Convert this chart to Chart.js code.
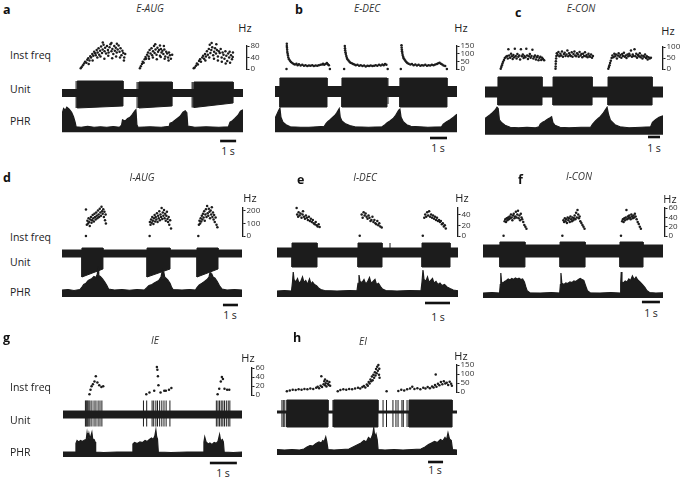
<!DOCTYPE html>
<html>
<head>
<meta charset="utf-8">
<script src="https://cdn.jsdelivr.net/npm/chart.js@4.4.1/dist/chart.umd.min.js"></script>
<style>
body { margin: 0; background: #fff; }
#fig { position: relative; width: 685px; height: 481px; overflow: hidden; background: #fff;
       font-family: "Open Sans", "Noto Sans", sans-serif; color: #222; }
#fig canvas { position: absolute; }
.t { position: absolute; white-space: nowrap; line-height: 1; }
.lab { font-size: 10.5px; }
.ttl { font-size: 10px; font-style: italic; font-weight: 400; color: #333; }
.let { font-size: 12.5px; font-weight: bold; color: #111; }
.hz { font-size: 11px; }
.sec { font-size: 10.5px; }
</style>
</head>
<body>
<div id="fig"></div>
<script>
// ---- data (time in s, freq in Hz, unit / PHR in arbitrary units) ----

// panel a, E-AUG
var freqA = [[0.94,3],[1.0,8],[1.08,14],[1.15,20],[1.22,26],[1.3,22],[1.36,33],[1.42,38],[1.45,18],[1.5,30],[1.55,45],[1.6,40],[1.68,52],[1.7,30],[1.74,46],[1.8,60],[1.86,55],[1.9,48],[1.96,66],[2.0,40],[2.02,58],[2.08,72],[2.12,50],[2.18,64],[2.2,44],[2.24,78],[2.3,56],[2.34,68],[2.35,92],[2.4,84],[2.45,36],[2.46,62],[2.5,74],[2.56,54],[2.62,80],[2.68,66],[2.7,46],[2.72,58],[2.78,76],[2.84,86],[2.9,62],[2.9,90],[2.95,38],[2.96,70],[3.02,52],[3.08,80],[3.12,64],[3.18,74],[3.2,44],[3.24,58],[3.25,88],[3.3,68],[3.36,82],[3.42,60],[3.45,40],[3.48,72],[3.54,48],[3.6,64],[3.66,56],[3.7,30],[3.72,40],[3.78,52],
  [4.72,3],[4.78,10],[4.85,18],[4.9,26],[4.96,22],[5.02,34],[5.08,42],[5.12,36],[5.18,50],[5.24,58],[5.28,44],[5.3,36],[5.34,66],[5.4,54],[5.46,72],[5.5,48],[5.55,40],[5.56,62],[5.62,80],[5.66,56],[5.7,86],[5.72,68],[5.78,50],[5.8,34],[5.84,74],[5.88,60],[5.94,66],[6.0,46],[6.0,82],[6.05,42],[6.06,70],[6.1,58],[6.16,64],[6.22,52],[6.25,80],[6.28,68],[6.3,36],[6.34,44],[6.4,60],[6.46,54],[6.52,40],[6.55,30],[6.58,58],[6.64,48],[6.7,36],[6.78,50],
  [8.16,3],[8.22,6],[8.3,12],[8.36,20],[8.42,16],[8.5,28],[8.56,34],[8.62,26],[8.7,40],[8.76,46],[8.82,36],[8.88,52],[8.9,30],[8.94,44],[9.0,62],[9.06,50],[9.12,70],[9.15,40],[9.18,84],[9.22,56],[9.28,66],[9.3,90],[9.34,76],[9.4,48],[9.45,36],[9.46,60],[9.52,72],[9.58,54],[9.6,86],[9.64,66],[9.7,44],[9.7,30],[9.76,62],[9.82,56],[9.88,70],[9.94,40],[9.95,26],[10.0,58],[10.06,50],[10.12,36],[10.18,62],[10.2,20],[10.24,46],[10.3,28],[10.36,54],[10.42,40],[10.45,60],[10.48,22],[10.54,48],[10.6,34],[10.65,42],[10.66,58]];
var ticksA = [0, 40, 80];
var unitBaseA = [0.35, -0.35];
var unitA = [[0.95,3.81,1.2,-1.5,1.2,-1.3],[4.81,6.88,1.1,-1.5,1.1,-1.3],[8.25,10.69,1.1,-1.45,1.1,-1.0]];
var spikesA = [[0.88,1.2,-1.5],[0.99,1.2,-1.5],[4.69,1.1,-1.5],[4.76,1.1,-1.5],[8.13,1.1,-1.45],[8.19,1.1,-1.45]];
var phrA = [[0,0.72],[0.1,0.95],[0.2,0.88],[0.3,1.0],[0.45,0.92],[0.6,0.8],[0.72,0.62],[0.82,0.4],[0.88,0.22],[1.2,0.2],[1.6,0.24],[2.0,0.2],[2.4,0.22],[2.8,0.2],[3.2,0.23],[3.6,0.2],[3.72,0.28],[3.78,0.5],[3.95,0.45],[4.1,0.55],[4.25,0.6],[4.4,0.72],[4.55,0.85],[4.62,0.9],[4.68,0.3],[4.75,0.2],[5.5,0.22],[6.2,0.2],[6.7,0.24],[6.75,0.36],[6.9,0.4],[7.06,0.48],[7.2,0.55],[7.38,0.64],[7.56,0.8],[7.7,0.86],[7.8,0.78],[7.86,0.25],[8.3,0.2],[9.0,0.22],[9.8,0.2],[10.4,0.22],[10.5,0.4],[10.65,0.46],[10.8,0.55],[11.0,0.68],[11.15,0.84],[11.31,0.9]];
var phrFloorA = 0;
var barA = [9.88, -0.35];

// panel b, E-DEC
var freqB = [[0.45,2],[0.47,165],[0.47,150],[0.48,138],[0.49,125],[0.5,112],[0.52,100],[0.54,88],[0.56,76],[0.6,64],[0.66,54],[0.72,46],[0.8,40],[0.88,34],[0.96,30],[1.05,36],[1.12,26],[1.2,32],[1.3,24],[1.4,28],[1.5,22],[1.6,26],[1.7,20],[1.8,24],[1.9,22],[2.0,26],[2.1,20],[2.2,24],[2.3,22],[2.4,26],[2.5,28],[2.6,30],[2.65,36],[2.72,28],[2.8,34],[2.88,40],[2.94,32],[3.0,26],[3.06,2],
  [3.92,2],[3.96,150],[3.97,136],[3.98,122],[4.0,110],[4.02,98],[4.05,86],[4.08,74],[4.12,64],[4.18,56],[4.24,48],[4.3,42],[4.38,38],[4.46,34],[4.54,30],[4.62,26],[4.72,28],[4.82,22],[4.92,26],[5.02,20],[5.12,24],[5.22,18],[5.32,22],[5.42,20],[5.52,24],[5.62,20],[5.72,22],[5.82,26],[5.92,22],[6.02,28],[6.12,24],[6.22,30],[6.3,26],[6.38,34],[6.46,28],[6.54,2],
  [7.33,2],[7.37,155],[7.38,140],[7.39,128],[7.4,116],[7.42,104],[7.44,92],[7.47,80],[7.5,70],[7.55,62],[7.6,54],[7.66,46],[7.72,40],[7.8,36],[7.9,30],[8.0,34],[8.1,26],[8.2,30],[8.3,24],[8.4,28],[8.5,22],[8.6,26],[8.7,24],[8.8,28],[8.9,22],[9.0,26],[9.1,24],[9.2,28],[9.3,26],[9.4,30],[9.5,34],[9.58,38],[9.66,42],[9.74,36],[9.82,30],[9.9,24],[10.0,20],[10.1,2]];
var ticksB = [0, 50, 100, 150];
var unitBaseB = [0.65, -0.35];
var unitB = [[0.29,3.06,1.5,-1.4,1.5,-1.4],[3.94,6.59,1.5,-1.4,1.5,-1.4],[7.35,10.12,1.5,-1.4,1.5,-1.4]];
var spikesB = [[6.65,1.5,-1.1]];
var phrB = [[0,0.55],[0.1,0.7],[0.2,0.85],[0.29,0.97],[0.35,0.6],[0.47,0.4],[0.65,0.3],[0.9,0.22],[1.5,0.2],[2.0,0.2],[2.5,0.22],[2.9,0.24],[3.0,0.35],[3.1,0.42],[3.24,0.5],[3.4,0.6],[3.53,0.68],[3.65,0.8],[3.78,0.95],[3.84,0.6],[3.94,0.45],[4.12,0.35],[4.4,0.27],[4.7,0.22],[5.5,0.2],[6.3,0.22],[6.47,0.3],[6.6,0.38],[6.76,0.45],[6.95,0.55],[7.1,0.68],[7.28,0.88],[7.35,0.92],[7.42,0.6],[7.55,0.42],[7.75,0.3],[8.0,0.24],[9.0,0.2],[9.8,0.22],[9.9,0.32],[10.1,0.42],[10.3,0.5],[10.5,0.6],[10.71,0.72]];
var phrFloorB = 0;
var barB = [9.12, -0.23];

// panel c, E-CON
var freqC = [[1.0,2],[1.05,10],[1.1,18],[1.15,26],[1.2,34],[1.28,42],[1.35,50],[1.45,56],[1.55,60],[1.6,48],[1.65,90],[1.72,62],[1.8,52],[1.88,70],[1.95,58],[2.02,46],[2.08,64],[2.15,54],[2.2,92],[2.28,60],[2.35,48],[2.42,68],[2.5,56],[2.58,62],[2.65,44],[2.72,90],[2.8,58],[2.88,66],[2.95,50],[3.02,60],[3.1,54],[3.18,92],[3.25,62],[3.32,46],[3.4,58],[3.48,68],[3.55,52],[3.62,60],[3.7,88],[3.78,48],[3.85,56],[3.92,62],[4.0,44],[4.08,54],[4.15,60],[4.22,40],[4.3,50],[4.38,56],[4.45,42],[4.52,52],[4.6,46],[4.7,40],
  [5.67,2],[5.68,12],[5.69,24],[5.7,36],[5.72,48],[5.74,60],[5.78,72],[5.85,64],[5.92,78],[6.0,58],[6.08,70],[6.15,62],[6.22,80],[6.3,56],[6.38,68],[6.45,74],[6.52,60],[6.6,66],[6.68,84],[6.75,58],[6.82,72],[6.9,64],[6.98,60],[7.05,76],[7.12,56],[7.2,68],[7.28,80],[7.35,62],[7.42,58],[7.5,72],[7.58,66],[7.65,56],[7.72,78],[7.8,62],[7.88,68],[7.95,54],[8.02,70],[8.1,60],[8.18,76],[8.25,58],[8.32,64],[8.4,54],[8.48,70],[8.55,60],[8.62,56],[8.7,66],[8.78,52],[8.86,60],
  [10.17,2],[10.22,10],[10.27,18],[10.32,28],[10.38,38],[10.45,50],[10.52,62],[10.6,54],[10.68,70],[10.75,58],[10.82,66],[10.9,48],[10.98,62],[11.05,72],[11.12,56],[11.2,64],[11.28,52],[11.35,68],[11.42,60],[11.5,74],[11.58,56],[11.65,62],[11.72,50],[11.8,66],[11.88,58],[11.95,70],[12.02,62],[12.1,84],[12.18,56],[12.25,66],[12.32,60],[12.4,90],[12.48,58],[12.55,70],[12.62,52],[12.7,64],[12.78,58],[12.85,72],[12.92,54],[13.0,62],[13.08,48],[13.15,60],[13.22,56],[13.3,66],[13.38,50],[13.45,58],[13.52,44],[13.6,54],[13.7,48],[13.8,52]];
var ticksC = [0, 50, 100];
var unitBaseC = [0.5, -0.5];
var unitC = [[1.08,4.75,1.5,-1.3,1.5,-1.3],[5.67,8.92,1.5,-1.3,1.5,-1.3],[10.25,13.92,1.5,-1.3,1.5,-1.3]];
var spikesC = [];
var phrC = [[0,0.55],[0.2,0.62],[0.42,0.7],[0.62,0.78],[0.83,0.88],[1.0,1.0],[1.1,0.95],[1.2,0.5],[1.4,0.38],[1.67,0.28],[2.1,0.2],[2.8,0.18],[3.5,0.2],[4.2,0.18],[4.5,0.22],[4.6,0.32],[4.8,0.4],[5.0,0.45],[5.2,0.52],[5.42,0.58],[5.55,0.62],[5.65,0.4],[5.83,0.28],[6.25,0.2],[7.0,0.18],[8.0,0.2],[8.8,0.2],[8.95,0.32],[9.2,0.45],[9.42,0.55],[9.6,0.62],[9.83,0.75],[10.0,0.88],[10.17,1.0],[10.3,0.7],[10.45,0.48],[10.83,0.3],[11.25,0.22],[12.0,0.18],[13.0,0.2],[13.8,0.22],[13.95,0.4],[14.2,0.5],[14.5,0.6],[14.83,0.66]];
var phrFloorC = -0.1;
var barC = [13.58, -0.19];

// panel d, I-AUG
var freqD = [[1.36,2],[1.36,208],[1.42,90],[1.46,120],[1.5,100],[1.54,140],[1.58,110],[1.62,80],[1.66,130],[1.7,150],[1.74,105],[1.78,125],[1.82,165],[1.86,140],[1.9,115],[1.94,175],[1.98,150],[2.02,130],[2.06,185],[2.1,160],[2.14,140],[2.18,200],[2.22,170],[2.26,150],[2.3,215],[2.34,185],[2.38,160],[2.42,230],[2.46,195],[2.5,175],[2.54,210],[2.58,150],[2.62,190],[2.66,125],[2.7,170],[2.72,100],
  [5.7,2],[5.72,110],[5.76,90],[5.8,130],[5.84,105],[5.88,150],[5.92,120],[5.96,95],[6.0,140],[6.04,165],[6.08,115],[6.12,150],[6.16,130],[6.2,180],[6.24,110],[6.28,160],[6.32,140],[6.36,195],[6.4,125],[6.44,170],[6.48,150],[6.52,220],[6.56,135],[6.6,185],[6.64,160],[6.68,205],[6.72,140],[6.76,175],[6.8,120],[6.84,160],[6.88,190],[6.92,135],[6.96,110],[7.0,150],[7.04,90],[7.1,125],[7.16,60],
  [9.02,2],[9.06,90],[9.1,120],[9.14,100],[9.18,140],[9.22,115],[9.26,160],[9.3,130],[9.34,175],[9.38,145],[9.42,195],[9.46,120],[9.5,170],[9.54,210],[9.58,150],[9.62,235],[9.66,180],[9.7,160],[9.74,215],[9.78,190],[9.82,140],[9.86,200],[9.9,170],[9.94,225],[9.98,150],[10.02,185],[10.06,130],[10.1,165],[10.14,110],[10.2,145],[10.26,90],[10.32,70]];
var ticksD = [0, 100, 200];
var unitBaseD = [0.4, -0.3];
var unitD = [[1.33,2.73,0.6,-2.3,0.6,-1.5],[5.67,7.2,0.6,-2.3,0.6,-1.5],[9.0,10.4,0.6,-2.3,0.6,-1.5]];
var spikesD = [];
var phrD = [[0,0.28],[0.4,0.3],[0.8,0.26],[1.2,0.3],[1.33,0.4],[1.45,0.5],[1.6,0.55],[1.75,0.66],[1.87,0.7],[2.0,0.74],[2.13,0.82],[2.25,0.78],[2.35,0.9],[2.4,1.16],[2.45,0.86],[2.55,0.82],[2.7,0.72],[2.85,0.6],[3.0,0.45],[3.1,0.32],[3.5,0.28],[4.0,0.3],[4.5,0.27],[5.0,0.3],[5.5,0.28],[5.67,0.38],[5.8,0.46],[6.0,0.5],[6.15,0.56],[6.33,0.62],[6.45,0.66],[6.6,0.8],[6.68,1.02],[6.73,0.7],[6.8,0.95],[6.87,0.72],[6.93,0.75],[7.05,0.68],[7.2,0.55],[7.3,0.4],[7.4,0.3],[8.0,0.28],[8.5,0.3],[8.9,0.28],[9.0,0.38],[9.15,0.48],[9.33,0.55],[9.5,0.62],[9.67,0.7],[9.8,0.8],[9.87,0.98],[9.93,0.76],[10.0,0.9],[10.07,0.8],[10.2,0.75],[10.35,0.62],[10.5,0.45],[10.67,0.32],[11.0,0.28],[11.5,0.3],[12,0.28]];
var phrFloorD = 0;
var barD = [10.73, -0.32];

// panel e, I-DEC
var freqE = [[0.64,52],[0.66,40],[0.7,36],[0.72,44],[0.76,38],[0.8,42],[0.84,34],[0.88,40],[0.9,46],[0.94,36],[0.98,32],[1.02,38],[1.06,34],[1.1,30],[1.14,36],[1.18,28],[1.22,32],[1.26,26],[1.3,30],[1.34,24],[1.38,22],[1.42,26],[1.46,20],[1.5,18],[1.54,22],[1.58,17],
  [3.22,1],[3.3,40],[3.34,34],[3.38,44],[3.42,38],[3.46,42],[3.5,36],[3.54,32],[3.58,38],[3.62,34],[3.66,28],[3.7,30],[3.74,36],[3.78,26],[3.82,30],[3.86,24],[3.9,22],[3.94,28],[3.98,20],[4.02,24],[4.06,18],[4.12,16],
  [5.8,1],[5.86,34],[5.9,40],[5.94,36],[5.98,44],[6.02,38],[6.06,46],[6.1,36],[6.14,40],[6.18,34],[6.22,38],[6.26,32],[6.3,36],[6.34,30],[6.38,34],[6.42,28],[6.46,30],[6.5,26],[6.54,28],[6.58,22],[6.62,24],[6.66,18],[6.7,20],[6.74,14]];
var ticksE = [0, 20, 40];
var unitBaseE = [0.6, -0.3];
var unitE = [[0.6,1.6,1.1,-1.3,1.1,-1.3],[3.24,4.2,1.1,-1.3,1.1,-1.3],[5.8,6.92,1.1,-1.3,1.1,-1.3]];
var spikesE = [[4.52,1.1,-0.3]];
var phrE = [[0,0.24],[0.3,0.26],[0.58,0.24],[0.62,0.6],[0.65,1.0],[0.68,0.7],[0.75,0.6],[0.82,0.74],[0.88,0.55],[0.95,0.62],[1.02,0.8],[1.08,0.58],[1.15,0.66],[1.22,0.5],[1.3,0.72],[1.36,0.52],[1.42,0.6],[1.5,0.5],[1.58,0.45],[1.66,0.36],[1.75,0.3],[1.9,0.26],[2.4,0.24],[2.9,0.26],[3.2,0.25],[3.24,0.55],[3.28,0.88],[3.32,0.62],[3.4,0.58],[3.48,0.7],[3.55,0.52],[3.62,0.6],[3.7,0.78],[3.76,0.55],[3.84,0.62],[3.92,0.7],[3.98,0.5],[4.06,0.55],[4.14,0.42],[4.22,0.32],[4.35,0.26],[4.8,0.24],[5.3,0.26],[5.76,0.25],[5.8,0.6],[5.84,1.08],[5.88,0.7],[5.95,0.62],[6.02,0.8],[6.08,0.58],[6.15,0.66],[6.22,0.74],[6.28,0.55],[6.36,0.62],[6.44,0.5],[6.52,0.56],[6.6,0.46],[6.7,0.5],[6.8,0.4],[6.92,0.34],[7.05,0.28],[7.24,0.25]];
var phrFloorE = 0;
var barE = [5.92, -0.24];

// panel f, I-CON
var freqF = [[0.94,1],[1.0,32],[1.04,36],[1.08,30],[1.12,38],[1.16,34],[1.2,40],[1.24,36],[1.28,42],[1.32,38],[1.36,46],[1.4,40],[1.44,34],[1.48,44],[1.52,48],[1.56,38],[1.6,42],[1.64,52],[1.68,40],[1.72,46],[1.76,54],[1.8,38],[1.84,44],[1.88,34],[1.92,48],[1.96,40],[2.0,36],[2.06,30],[2.12,24],[2.18,20],[2.24,16],
  [4.28,1],[4.34,34],[4.38,30],[4.42,38],[4.46,32],[4.5,36],[4.54,28],[4.58,40],[4.62,34],[4.66,38],[4.7,30],[4.74,42],[4.78,36],[4.82,32],[4.86,40],[4.9,34],[4.94,38],[4.98,44],[5.02,36],[5.06,50],[5.1,40],[5.14,56],[5.18,46],[5.22,38],[5.26,42],[5.3,32],[5.36,28],[5.42,24],[5.48,20],[5.54,16],
  [7.61,1],[7.68,32],[7.72,36],[7.76,30],[7.8,38],[7.84,34],[7.88,40],[7.92,56],[7.96,36],[8.0,42],[8.04,38],[8.08,44],[8.12,40],[8.16,36],[8.2,46],[8.24,42],[8.28,38],[8.32,44],[8.36,40],[8.4,48],[8.44,42],[8.5,36],[8.56,30],[8.62,26],[8.68,20],[8.74,16]];
var ticksF = [0, 20, 40, 60];
var unitBaseF = [0.9, -0.3];
var unitF = [[0.94,2.33,1.2,-1.3,1.2,-1.3],[4.28,5.67,1.2,-1.3,1.2,-1.3],[7.61,8.89,1.2,-1.3,1.2,-1.3]];
var spikesF = [];
var phrF = [[0,0.16],[0.5,0.18],[0.92,0.16],[0.96,0.5],[0.99,0.96],[1.03,0.6],[1.1,0.55],[1.2,0.62],[1.3,0.66],[1.4,0.72],[1.5,0.68],[1.6,0.74],[1.7,0.7],[1.8,0.76],[1.9,0.72],[2.0,0.75],[2.1,0.7],[2.2,0.72],[2.3,0.6],[2.38,0.4],[2.45,0.25],[2.6,0.17],[3.2,0.16],[3.8,0.18],[4.26,0.16],[4.3,0.5],[4.33,0.96],[4.38,0.55],[4.5,0.5],[4.6,0.56],[4.7,0.54],[4.83,0.6],[4.95,0.58],[5.05,0.64],[5.15,0.62],[5.3,0.7],[5.4,0.74],[5.5,0.7],[5.6,0.66],[5.7,0.45],[5.8,0.25],[5.95,0.17],[6.5,0.16],[7.1,0.18],[7.62,0.16],[7.65,0.55],[7.68,1.0],[7.72,0.6],[7.8,0.56],[7.9,0.64],[8.0,0.6],[8.1,0.72],[8.2,0.66],[8.3,0.84],[8.4,0.7],[8.5,0.8],[8.6,0.68],[8.72,0.6],[8.85,0.5],[9.0,0.38],[9.1,0.26],[9.25,0.18],[9.6,0.16],[10,0.17]];
var phrFloorF = -0.04;
var barF = [8.83, -0.2];

// panel g, IE
var freqG = [[0.85,2],[0.89,12],[0.93,20],[0.98,24],[1.04,30],[1.09,42],[1.15,28],[1.22,22],[1.3,18],[1.37,20],
  [3.0,2],[3.12,6],[3.3,10],[3.4,62],[3.42,56],[3.44,42],[3.46,22],[3.54,6],[3.68,10],[3.74,10],[3.86,12],[3.95,16],
  [5.7,2],[5.76,14],[5.82,30],[5.86,40],[5.9,36],[5.96,14],[6.06,12],[6.14,12]];
var ticksG = [0, 20, 40, 60];
var unitBaseG = [0.35, -0.35];
var unitG = [];
var spikesG = [[0.83,1.4,-1.2],[0.86,1.4,-1.2],[0.89,1.4,-1.2],[0.92,1.4,-1.2],[0.96,1.4,-1.2],[1.0,1.4,-1.2],[1.07,1.4,-1.2],[1.15,1.4,-1.2],[1.22,1.4,-1.2],[1.3,1.4,-1.2],[1.37,1.4,-1.2],[1.44,1.4,-1.2],
  [2.98,1.4,-1.2],[3.1,1.4,-1.2],[3.3,1.4,-1.2],[3.36,1.4,-1.2],[3.44,1.4,-1.2],[3.5,1.4,-1.2],[3.58,1.4,-1.2],[3.66,1.4,-1.2],[3.74,1.4,-1.2],[3.82,1.4,-1.2],[3.96,1.4,-1.2],
  [5.68,1.4,-1.2],[5.74,1.4,-1.2],[5.8,1.4,-1.2],[5.86,1.4,-1.2],[5.92,1.4,-1.2],[5.98,1.4,-1.2],[6.05,1.4,-1.2],[6.12,1.4,-1.2],[6.18,1.4,-1.2]];
var phrG = [[0,0.2],[0.45,0.2],[0.48,0.55],[0.52,0.66],[0.58,0.6],[0.65,0.66],[0.72,0.62],[0.8,0.68],[0.86,0.7],[0.89,0.96],[0.92,0.7],[0.96,0.94],[1.0,0.72],[1.07,0.98],[1.1,0.72],[1.15,0.7],[1.19,0.6],[1.21,0.2],[1.5,0.18],[2.0,0.2],[2.56,0.2],[2.59,0.52],[2.65,0.58],[2.75,0.54],[2.85,0.6],[2.95,0.58],[3.04,0.66],[3.12,0.62],[3.2,0.7],[3.28,0.76],[3.34,0.7],[3.4,0.84],[3.44,1.08],[3.47,0.8],[3.5,0.72],[3.53,0.2],[4.0,0.18],[4.6,0.2],[5.2,0.2],[5.22,0.6],[5.25,0.8],[5.3,0.6],[5.38,0.52],[5.44,0.56],[5.52,0.5],[5.6,0.58],[5.68,0.55],[5.74,0.62],[5.8,0.9],[5.84,0.64],[5.9,0.7],[5.94,0.6],[5.97,0.2],[6.3,0.18],[6.63,0.2]];
var phrFloorG = 0;
var barG = [5.44, -0.24];

// panel h, EI
var freqH = [[0.4,5],[0.6,10],[0.8,14],[1.0,12],[1.2,16],[1.4,14],[1.6,18],[1.8,16],[2.0,20],[2.2,18],[2.4,24],[2.5,30],[2.6,22],[2.7,36],[2.75,88],[2.8,28],[2.9,44],[2.95,60],[3.0,38],[3.0,70],[3.05,50],[3.1,32],[3.15,62],[3.2,46],[3.25,40],[3.3,56],[3.35,36],
  [3.87,5],[4.05,12],[4.25,16],[4.45,14],[4.65,18],[4.85,16],[5.05,20],[5.25,24],[5.4,20],[5.55,28],[5.65,34],[5.75,26],[5.85,42],[5.92,36],[5.98,56],[6.04,48],[6.1,70],[6.15,60],[6.2,86],[6.25,66],[6.3,96],[6.35,80],[6.4,110],[6.44,92],[6.48,128],[6.52,104],[6.56,140],[6.6,118],[6.64,150],[6.68,96],[6.7,130],[6.72,80],
  [7.2,5],[8.0,6],[8.2,14],[8.4,10],[8.6,16],[8.8,20],[8.95,30],[9.1,18],[9.3,22],[9.5,16],[9.7,24],[9.85,20],[10.0,28],[10.15,22],[10.3,32],[10.4,26],[10.5,40],[10.55,98],[10.6,30],[10.7,46],[10.8,38],[10.9,56],[11.0,44],[11.1,60],[11.2,48],[11.3,52],[11.4,40],[11.5,58],[11.6,46],[11.65,36]];
var ticksH = [0, 50, 100, 150];
var unitBaseH = [0.35, 0.15];
var unitH = [[0.65,3.4,1.45,-1.25,1.45,-1.25],[3.78,6.73,1.45,-1.25,1.45,-1.25],[8.8,11.67,1.45,-1.25,1.45,-1.25]];
var spikesH = [[0.33,1.45,-1.25],[0.42,1.45,-1.25],[0.52,1.45,-1.25],[3.73,1.45,-1.25],[7.07,1.45,-1.25],[7.3,1.45,-1.25],[7.73,1.45,-1.25],[7.93,1.45,-1.25],[8.07,1.45,-1.25],[8.33,1.45,-1.25],[8.42,1.45,-1.25],[8.67,1.45,-1.25]];
var phrH = [[0,0.3],[0.5,0.28],[1.0,0.3],[1.5,0.28],[1.8,0.32],[2.0,0.4],[2.2,0.46],[2.4,0.44],[2.6,0.54],[2.8,0.6],[2.95,0.56],[3.05,0.66],[3.15,0.62],[3.25,0.8],[3.32,0.62],[3.4,0.3],[3.8,0.28],[4.3,0.3],[4.8,0.32],[5.0,0.38],[5.2,0.44],[5.4,0.5],[5.6,0.56],[5.8,0.66],[5.95,0.6],[6.1,0.78],[6.25,0.7],[6.38,0.9],[6.45,1.16],[6.52,0.8],[6.6,0.92],[6.68,0.7],[6.74,0.3],[7.2,0.28],[7.8,0.3],[8.4,0.28],[9.0,0.3],[9.6,0.32],[9.87,0.4],[10.1,0.5],[10.3,0.56],[10.5,0.62],[10.7,0.58],[10.9,0.7],[11.05,0.64],[11.2,0.78],[11.3,0.68],[11.4,0.96],[11.5,0.72],[11.62,0.66],[11.7,0.3],[12,0.28]];
var phrFloorH = 0.08;
var barH = [10.07, -0.2];

var rowLabels = ['Inst freq', 'Unit', 'PHR'];

// ---- layout (pixels) ----
var panels = [
  {k:'a', title:'E-AUG', T:11.31, fmax:80,  freq:freqA, ticks:ticksA, base:unitBaseA, unit:unitA, spikes:spikesA, phr:phrA, floor:phrFloorA, bar:barA,
   x:62,  w:181, gap:4,  f:[46,71],   u:[76,34,-1.7,1.7],   p:[104,32,-0.15,1.13], let:[3,10],   ttl:[150,8],   hz:[245,27],  sec:[228,151], rows:[55,89,121]},
  {k:'b', title:'E-DEC', T:10.71, fmax:150, freq:freqB, ticks:ticksB, base:unitBaseB, unit:unitB, spikes:spikesB, phr:phrB, floor:phrFloorB, bar:barB,
   x:275, w:182, gap:0,  f:[46,71],   u:[76,34,-1.7,1.7],   p:[104,32,-0.15,1.13], let:[295,10], ttl:[367,8],   hz:[461,27],  sec:[438,148]},
  {k:'c', title:'E-CON', T:14.83, fmax:100, freq:freqC, ticks:ticksC, base:unitBaseC, unit:unitC, spikes:spikesC, phr:phrC, floor:phrFloorC, bar:barC,
   x:485, w:178, gap:0,  f:[47,71],   u:[75,34,-1.7,1.7],   p:[104,32,-0.15,1.13], let:[515,13], ttl:[581,8],   hz:[668,30],  sec:[654,148]},
  {k:'d', title:'I-AUG', T:12,    fmax:220, freq:freqD, ticks:ticksD, base:unitBaseD, unit:unitD, spikes:spikesD, phr:phrD, floor:phrFloorD, bar:barD,
   x:62,  w:180, gap:1,  f:[208,238], u:[240,40,-2.6,1.4],  p:[266,34,-0.12,1.24], let:[3,178],  ttl:[142,177], hz:[250,197], sec:[230,315], rows:[237,262,292]},
  {k:'e', title:'I-DEC', T:7.24,  fmax:52,  freq:freqE, ticks:ticksE, base:unitBaseE, unit:unitE, spikes:spikesE, phr:phrE, floor:phrFloorE, bar:barE,
   x:277, w:181, gap:0,  f:[208,238], u:[240,40,-2.6,1.4],  p:[266,34,-0.12,1.24], let:[297,180], ttl:[365,177], hz:[462,197], sec:[438,317]},
  {k:'f', title:'I-CON', T:10,    fmax:60,  freq:freqF, ticks:ticksF, base:unitBaseF, unit:unitF, spikes:spikesF, phr:phrF, floor:phrFloorF, bar:barF,
   x:483, w:180, gap:2,  f:[208,238], u:[240,40,-2.6,1.4],  p:[266,34,-0.12,1.24], let:[518,180], ttl:[579,176], hz:[670,198], sec:[651,313]},
  {k:'g', title:'IE',    T:6.63,  fmax:60,  freq:freqG, ticks:ticksG, base:unitBaseG, unit:unitG, spikes:spikesG, phr:phrG, floor:phrFloorG, bar:barG,
   x:63,  w:179, gap:10, f:[368,397], u:[396,34,-1.55,1.85], p:[426,34,-0.12,1.24], let:[3,338],  ttl:[155,340], hz:[248,357], sec:[223,473], rows:[387,420,452]},
  {k:'h', title:'EI',    T:12,    fmax:150, freq:freqH, ticks:ticksH, base:unitBaseH, unit:unitH, spikes:spikesH, phr:phrH, floor:phrFloorH, bar:barH,
   x:277, w:180, gap:0,  f:[365,394], u:[396,34,-1.55,1.85], p:[426,34,-0.12,1.24], let:[293,338], ttl:[363,341], hz:[461,355], sec:[435,470]}
];

var INK = '#1c1c1c';
var AXW = 26, PADT = 12, PADB = 4, BARPAD = 16;

Chart.defaults.animation = false;
Chart.defaults.responsive = false;
Chart.defaults.devicePixelRatio = 1;
Chart.defaults.font.family = '"Open Sans", "Noto Sans", sans-serif';
Chart.defaults.plugins.legend.display = false;
Chart.defaults.plugins.tooltip.enabled = false;

var fig = document.getElementById('fig');

function canvasAt(x, y, w, h) {
  var c = document.createElement('canvas');
  c.width = w; c.height = h;
  c.style.left = x + 'px'; c.style.top = y + 'px';
  fig.appendChild(c);
  return c;
}

function txt(s, x, y, cls, centre) {
  var d = document.createElement('div');
  d.className = 't ' + cls;
  d.textContent = s;
  d.style.left = x + 'px'; d.style.top = y + 'px';
  d.style.transform = centre ? 'translate(-50%,-50%)' : 'translate(0,-50%)';
  fig.appendChild(d);
}

function pts(list) {
  return list.map(function(p) { return {x: p[0], y: p[1]}; });
}

function hiddenX(min, max) {
  return {type: 'linear', display: false, min: min, max: max};
}

function freqChart(p) {
  var xmax = p.T * (p.w + p.gap) / p.w;
  var h = p.f[1] - p.f[0];
  var c = canvasAt(p.x, p.f[0] - PADT, p.w + p.gap + AXW, h + PADT + PADB);
  new Chart(c, {
    type: 'scatter',
    data: {datasets: [{data: pts(p.freq), pointRadius: 1.25, pointBackgroundColor: INK, pointBorderWidth: 0, clip: false}]},
    options: {
      layout: {padding: {top: PADT, bottom: PADB, left: 0, right: 0}},
      scales: {
        x: hiddenX(0, xmax),
        y: {
          position: 'right', min: 0, max: p.fmax,
          afterBuildTicks: function(s) { s.ticks = p.ticks.map(function(v) { return {value: v}; }); },
          afterFit: function(s) { s.width = AXW; },
          border: {display: true, color: INK, width: 1.3},
          grid: {drawOnChartArea: false, drawTicks: true, tickLength: 2.5, color: INK, lineWidth: 1},
          ticks: {color: '#333', font: {size: 8}, padding: 1, autoSkip: false, maxRotation: 0}
        }
      }
    }
  });
}

function unitChart(p) {
  var hi = [[0, p.base[0]]], lo = [[0, p.base[1]]];
  p.unit.forEach(function(b) {
    hi.push([b[0], p.base[0]], [b[0], b[2]], [b[1], b[4]], [b[1], p.base[0]]);
    lo.push([b[0], p.base[1]], [b[0], b[3]], [b[1], b[5]], [b[1], p.base[1]]);
  });
  hi.push([p.T, p.base[0]]);
  lo.push([p.T, p.base[1]]);

  var sp = [];
  p.spikes.forEach(function(s) {
    sp.push({x: s[0], y: s[2]}, {x: s[0], y: s[1]}, {x: s[0], y: null});
  });

  var c = canvasAt(p.x, p.u[0], p.w, p.u[1]);
  new Chart(c, {
    type: 'line',
    data: {datasets: [
      {data: pts(hi), borderColor: INK, backgroundColor: INK, borderWidth: 1, pointRadius: 0, fill: '+1'},
      {data: pts(lo), borderColor: INK, backgroundColor: INK, borderWidth: 1, pointRadius: 0, fill: false},
      {data: sp, borderColor: INK, borderWidth: 1, pointRadius: 0, fill: false, spanGaps: false}
    ]},
    options: {
      layout: {padding: 0},
      scales: {
        x: hiddenX(0, p.T),
        y: {type: 'linear', display: false, min: p.u[2], max: p.u[3]}
      }
    }
  });
}

function phrChart(p) {
  var c = canvasAt(p.x, p.p[0], p.w, p.p[1] + BARPAD);
  new Chart(c, {
    type: 'line',
    data: {datasets: [
      {data: pts(p.phr), borderColor: INK, backgroundColor: INK, borderWidth: 1.2, pointRadius: 0, fill: {value: p.floor}},
      {data: [{x: p.bar[0], y: p.bar[1]}, {x: p.bar[0] + 1, y: p.bar[1]}], borderColor: '#111', borderWidth: 2.6,
       pointRadius: 0, fill: false, clip: false, borderCapStyle: 'butt'}
    ]},
    options: {
      layout: {padding: {top: 0, bottom: BARPAD, left: 0, right: 0}},
      scales: {
        x: hiddenX(0, p.T),
        y: {type: 'linear', display: false, min: p.p[2], max: p.p[3]}
      }
    }
  });
}

panels.forEach(function(p) {
  txt(p.k, p.let[0], p.let[1], 'let', false);
  txt(p.title, p.ttl[0], p.ttl[1], 'ttl', true);
  txt('Hz', p.hz[0], p.hz[1], 'hz', true);
  txt('1 s', p.sec[0], p.sec[1], 'sec', true);
  if (p.rows) {
    rowLabels.forEach(function(s, i) { txt(s, 10, p.rows[i], 'lab', false); });
  }
  freqChart(p);
  unitChart(p);
  phrChart(p);
});
</script>
</body>
</html>
